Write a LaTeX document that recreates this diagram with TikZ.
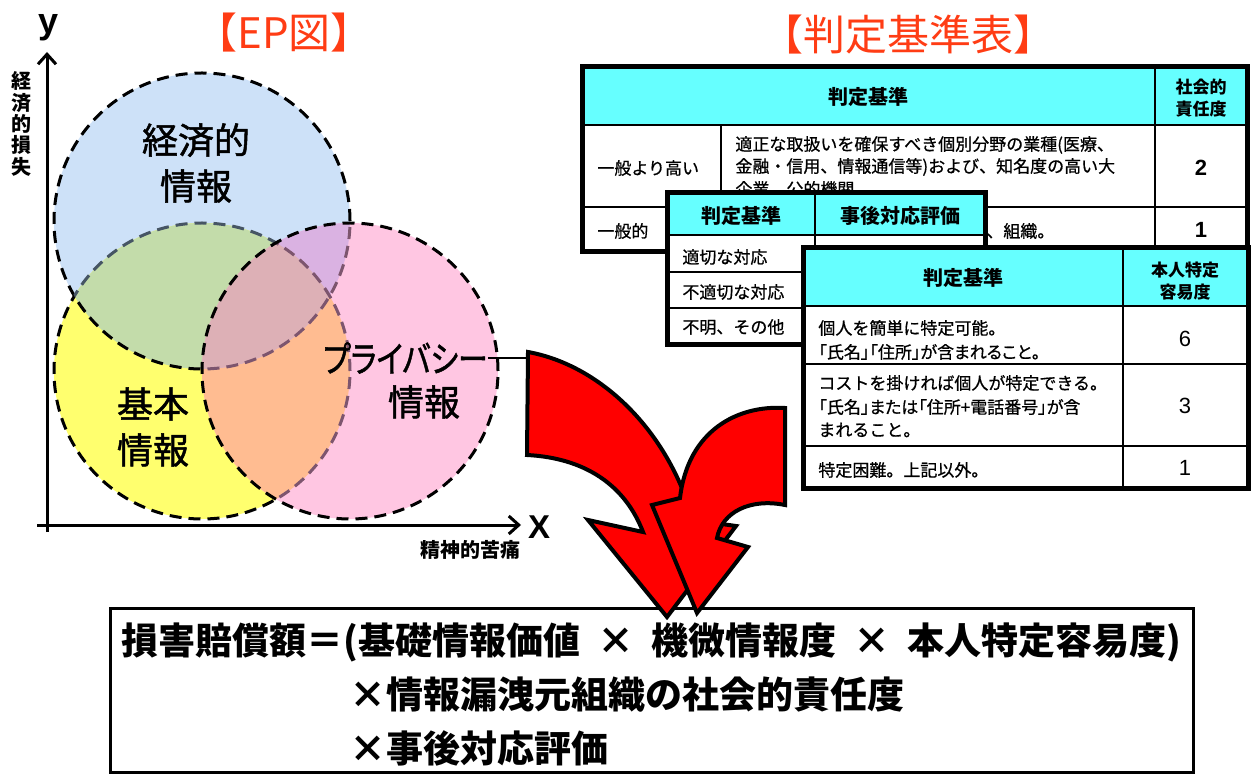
\documentclass[tikz,border=0pt]{standalone}
\usepackage{fontspec}
\setmainfont{Noto Sans CJK JP}
\newfontfamily\jpp[RawFeature=+palt]{Noto Sans CJK JP}
\newfontfamily\jpm[FakeBold=0.7]{Noto Sans CJK JP}
\newfontfamily\jpmp[FakeBold=0.7,RawFeature=+palt]{Noto Sans CJK JP}
\newfontfamily\jpl[FakeBold=1.4]{Noto Sans CJK JP}
\newfontfamily\jplp[FakeBold=1.4,RawFeature=+palt]{Noto Sans CJK JP}
\newfontfamily\lat{Liberation Sans}
\usetikzlibrary{arrows.meta}
\definecolor{cblue}{RGB}{205,225,248}
\definecolor{cgreen}{RGB}{195,220,170}
\definecolor{cyel}{RGB}{255,255,110}
\definecolor{cpink}{RGB}{255,198,226}
\definecolor{corange}{RGB}{255,188,145}
\definecolor{cpurple}{RGB}{218,178,226}
\definecolor{ctriple}{RGB}{221,176,182}
\definecolor{cslate}{RGB}{70,85,100}
\definecolor{cmauve}{RGB}{125,85,110}
\definecolor{ccyan}{RGB}{102,255,255}
\definecolor{ctitle}{RGB}{255,60,20}
\begin{document}
\begin{tikzpicture}[x=0.5pt,y=-0.5pt,
  circline/.style={line width=1.5pt, dash pattern=on 6pt off 3.5pt},
  axisline/.style={line width=1.5pt, -{Straight Barb[length=5pt,width=9pt]}},
  redarrow/.style={fill=red, draw=black, line width=2pt, line join=miter},
  tabouter/.style={line width=2.5pt},
  tabinner/.style={line width=0.75pt},
  tb/.style={anchor=west, inner sep=0pt, font=\jpm\fontsize{8.5}{10}\selectfont},
  th/.style={inner sep=0pt, font=\bfseries\fontsize{10}{12}\selectfont},
  ths/.style={inner sep=0pt, align=center, font=\bfseries\fontsize{8.5}{11}\selectfont},
  numr/.style={inner sep=0pt, font=\lat\fontsize{11}{13}\selectfont},
  numb/.style={inner sep=0pt, font=\lat\bfseries\fontsize{11}{13}\selectfont},
  vlab/.style={inner sep=0pt, align=center, font=\jpl\fontsize{18}{23}\selectfont},
  formula/.style={anchor=west, inner sep=0pt, font=\bfseries\fontsize{18.5}{22}\selectfont},
  ttl/.style={inner sep=0pt, text=ctitle, font=\fontsize{21}{25}\selectfont}
]
\def\R{74pt}
\def\gap{\hspace{0.46em}}
\useasboundingbox (0,0) rectangle (1251,774);
\fill[white] (0,0) rectangle (1251,774);

% circles
\coordinate (cb) at (202,221);
\coordinate (cy) at (202,371);
\coordinate (cp) at (350,371);
\fill[cblue] (cb) circle[radius=\R];
\fill[cyel] (cy) circle[radius=\R];
\fill[cpink] (cp) circle[radius=\R];
\begin{scope}\clip (cb) circle[radius=\R]; \fill[cgreen] (cy) circle[radius=\R];\end{scope}
\begin{scope}\clip (cy) circle[radius=\R]; \fill[corange] (cp) circle[radius=\R];\end{scope}
\begin{scope}\clip (cb) circle[radius=\R]; \fill[cpurple] (cp) circle[radius=\R];\end{scope}
\begin{scope}\clip (cb) circle[radius=\R]; \clip (cy) circle[radius=\R]; \fill[ctriple] (cp) circle[radius=\R];\end{scope}
% outlines
\begin{scope}[even odd rule]
  \clip (-10,-10) rectangle (1300,800) (cp) circle[radius=\R];
  \draw[circline] (cb) circle[radius=\R];
\end{scope}
\begin{scope}\clip (cp) circle[radius=\R]; \draw[circline,cmauve] (cb) circle[radius=\R];\end{scope}
\begin{scope}[even odd rule]
  \clip (-10,-10) rectangle (1300,800) (cp) circle[radius=\R];
  \begin{scope}
    \clip (-10,-10) rectangle (1300,800) (cb) circle[radius=\R];
    \draw[circline] (cy) circle[radius=\R];
  \end{scope}
  \begin{scope}[nonzero rule]
    \clip (cb) circle[radius=\R];
    \draw[circline,cslate] (cy) circle[radius=\R];
  \end{scope}
\end{scope}
\begin{scope}\clip (cp) circle[radius=\R]; \draw[circline,cmauve] (cy) circle[radius=\R];\end{scope}
\draw[circline] (cp) circle[radius=\R];

% axes
\coordinate (yb) at (47,532);
\coordinate (yt) at (47,52);
\coordinate (xl) at (37,525);
\coordinate (xr) at (521,525);
\draw[axisline] (yb) -- (yt);
\draw[axisline] (xl) -- (xr);
\node[inner sep=0pt, font=\lat\bfseries\fontsize{18}{20}\selectfont] (ylab) at (49,28) {y};
\node[inner sep=0pt, font=\lat\bfseries\fontsize{16.5}{18}\selectfont] (xlab) at (539,527) {X};
\node[inner sep=0pt, font=\bfseries\fontsize{10}{12}\selectfont] (xname) at (470,550) {精神的苦痛};
\node[inner sep=0pt, align=center, font=\bfseries\fontsize{10}{10.7}\selectfont] (yname) at (21,124) {経\\済\\的\\損\\失};

% circle labels
\node[vlab] (econ) at (196,163) {経済的\\情報};
\node[vlab] (basic) at (153,427) {基本\\情報};
\node[inner sep=0pt, anchor=east, font=\jplp\fontsize{18}{23}\selectfont] (priv) at (488,358) {\scalebox{0.83}[1]{プライバシー}};
\node[vlab] (priv2) at (424,402) {情報};

% titles
\node[ttl] (ttlep) at (284,33) {【EP図】};
\node[ttl] (ttlhan) at (908,35) {【判定基準表】};

% table 1
\fill[white] (582,67) rectangle (1247,252);
\fill[ccyan] (582,67) rectangle (1247,125);
\draw[tabinner] (582,125) -- (1247,125);
\draw[tabinner] (1155,67) -- (1155,252);
\draw[tabinner] (721,125) -- (721,252);
\draw[tabinner] (582,207) -- (1247,207);
\draw[tabouter] (582,67) rectangle (1247,252);
\node[th] (t1h) at (868,97) {判定基準};
\node[ths] (t1h2) at (1201,98) {社会的\\責任度};
\node[tb] (t1a) at (597,168) {一般より高い};
\node[tb] (t1b1) at (735,145) {適正な取扱いを確保すべき個別分野の業種(医療、};
\node[tb] (t1b2) at (735,167) {金融・信用、情報通信等)および、知名度の高い大};
\node[tb] (t1b3) at (735,189) {企業、公的機関};
\node[numb] (t1n1) at (1201,168) {2};
\node[tb] (t1c) at (597,231) {一般的};
\node[tb] (t1d) at (986,231) {、組織。};
\node[numb] (t1n2) at (1201,230) {1};

% table 2
\fill[white] (667,193) rectangle (985,345);
\fill[ccyan] (667,193) rectangle (985,235);
\draw[tabinner] (667,235) -- (985,235);
\draw[tabinner] (815,193) -- (815,345);
\draw[tabinner] (667,272) -- (985,272);
\draw[tabinner] (667,308) -- (985,308);
\draw[tabouter] (667,193) rectangle (985,345);
\node[th] (t2h1) at (741,216) {判定基準};
\node[th] (t2h2) at (900,216) {事後対応評価};
\node[tb] (t2a) at (682,257) {適切な対応};
\node[tb] (t2b) at (682,292) {不適切な対応};
\node[tb] (t2c) at (682,327) {不明、その他};

% table 3
\fill[white] (803,248) rectangle (1248,488);
\fill[ccyan] (803,248) rectangle (1248,306);
\draw[tabinner] (803,306) -- (1248,306);
\draw[tabinner] (1123,248) -- (1123,488);
\draw[tabinner] (803,364) -- (1248,364);
\draw[tabinner] (803,446) -- (1248,446);
\draw[tabouter] (803,248) rectangle (1248,488);
\node[th] (t3h1) at (963,278) {判定基準};
\node[ths] (t3h2) at (1185,281) {本人特定\\容易度};
\node[tb] (t3a1) at (818,328) {個人を簡単に特定可能。};
\node[tb, font=\jpmp\fontsize{8.5}{10}\selectfont] (t3a2) at (818,352) {「氏名」「住所」が含まれること。};
\node[numr] (t3n1) at (1185,339) {6};
\node[tb] (t3b1) at (818,383) {コストを掛ければ個人が特定できる。};
\node[tb, font=\jpmp\fontsize{8.5}{10}\selectfont] (t3b2) at (818,407) {「氏名」または「住所+電話番号」が含};
\node[tb] (t3b3) at (818,430) {まれること。};
\node[numr] (t3n2) at (1185,406) {3};
\node[tb] (t3c1) at (818,470) {特定困難。上記以外。};
\node[numr] (t3n3) at (1185,468) {1};

% bottom box
\draw[line width=1.5pt] (110,608) rectangle (1193,772);
\node[formula] (f1) at (121,642) {損害賠償額＝(基礎情報価値\gap{}×\gap{}機微情報度\gap{}×\gap{}本人特定容易度)};
\node[formula] (f2) at (349,695) {×情報漏洩元組織の社会的責任度};
\node[formula] (f3) at (349,748) {×事後対応評価};

% connector and arrows
\coordinate (atail) at (528,358);
\draw[line width=1pt] (priv.east) -- (atail);
\draw[redarrow] (528,352) .. controls (600,365) and (668,430) .. (693,520) -- (736,526) -- (667,617) -- (588,520) -- (643,532) .. controls (625,485) and (585,458) .. (527,455) -- cycle;
\draw[redarrow] (785,408) .. controls (738,405) and (688,430) .. (680,498) -- (652,505) -- (697,613) -- (748,547) -- (717,538) .. controls (722,512) and (750,498) .. (785,505) -- cycle;
\end{tikzpicture}
\end{document}
